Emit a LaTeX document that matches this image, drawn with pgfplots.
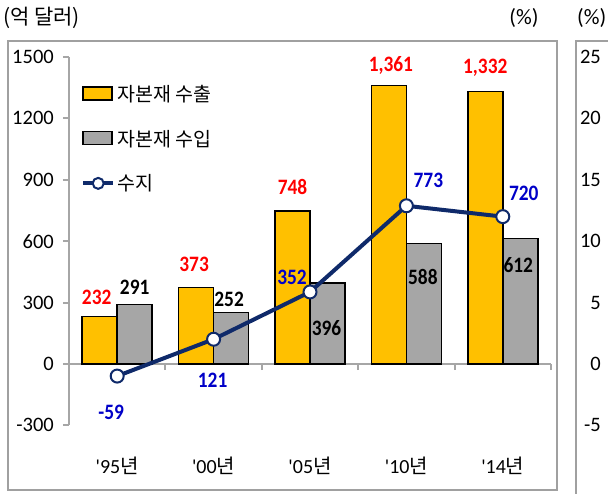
\documentclass[border=0pt]{standalone}
\usepackage{pgfplots}
\pgfplotsset{compat=1.18}
\usepackage{pgfplotstable}
\usepackage{fontspec}
\setmainfont{Carlito}[BoldFeatures={FakeStretch=0.88}]
\newfontfamily\kr{Noto Sans CJK KR}
\definecolor{cyellow}{HTML}{FFC000}
\definecolor{cgray}{HTML}{A6A6A6}
\definecolor{cnavy}{HTML}{0F2A6A}
\definecolor{cblue}{HTML}{0000C8}
\definecolor{cred}{HTML}{FF0000}
\definecolor{cframe}{HTML}{A0A0A0}

\pgfplotstableread{
x y dx dy lab
0 232 -20.5 19 232
1 373 -19.5 23 373
2 748 -17.5 24 748
3 1361 -15.5 20 1,361
4 1332 -17.5 24 1,332
}\exporttab
\pgfplotstableread{
x y dx dy lab
0 291 17.5 17 291
1 252 15.5 13 252
2 396 16.5 -45 396
3 588 16.5 -33 588
4 612 15.5 -26 612
}\importtab
\pgfplotstableread{
x y dx dy lab
0 -59 -6 -36 -59
1 121 -1 -41 121
2 352 -18 15 352
3 773 22 25 773
4 720 21 23 720
}\balancetab

\begin{document}
\begin{tikzpicture}[x=1pt,y=1pt]
\useasboundingbox (0,0) rectangle (608,493);
% frames
\draw[cframe, line width=2pt] (8,3) rectangle (557,452);
\draw[cframe, line width=2pt] (576,-10) -- (576,452) -- (700,452);
% titles
\node[anchor=west, inner sep=0pt, font=\kr\fontsize{21}{24}\selectfont] at (3,475) {(억 달러)};
\node[anchor=center, inner sep=0pt, font=\fontsize{22}{24}\selectfont] at (524,475) {(\%)};
\node[anchor=west, inner sep=0pt, font=\fontsize{22}{24}\selectfont] at (577,475) {(\%)};

\begin{axis}[
  at={(69pt,67.6pt)}, anchor=south west,
  scale only axis, width=482pt, height=368.4pt,
  xmin=-0.5, xmax=4.5, ymin=-300, ymax=1500,
  axis x line=middle, axis y line=left,
  axis line style={-, draw=cgray, line width=2pt},
  every inner x axis line/.append style={-},
  every outer y axis line/.append style={-},
  xtick={-0.5,0.5,1.5,2.5,3.5,4.5}, xticklabels={},
  ytick={-300,0,300,600,900,1200,1500},
  yticklabels={-300,0,300,600,900,1200,1500},
  tick align=outside, major tick length=6pt,
  tick style={draw=cgray, line width=2pt},
  yticklabel style={font=\fontsize{20.5}{23}\selectfont, anchor=east, inner sep=0pt, xshift=-9pt},
  clip=false,
  legend style={at={(rel axis cs:0,1)}, anchor=north west, xshift=12pt, yshift=-26pt,
    draw=none, fill=none, inner sep=0pt, row sep=23pt,
    font=\kr\fontsize{19.5}{21}\selectfont},
  legend cell align=left,
  nodes near coords,
  point meta=explicit symbolic,
  visualization depends on={\thisrow{dx} \as \dx},
  visualization depends on={\thisrow{dy} \as \dy},
  every node near coord/.style={anchor=center, inner sep=0pt, xshift=\dx pt, yshift=\dy pt,
    font=\bfseries\fontsize{22}{24}\selectfont},
]
\addplot[ybar, bar width=35pt, bar shift=-17.5pt, fill=cyellow, draw=black, line width=1.5pt,
  every node near coord/.append style={text=cred},
  legend image code/.code={\draw[fill=cyellow, draw=black, line width=1.5pt] (0pt,-6pt) rectangle (29pt,7pt);}]
  table[x=x, y=y, meta=lab] {\exporttab};
\addlegendentry{자본재 수출}
\addplot[ybar, bar width=35pt, bar shift=17.5pt, fill=cgray, draw=black, line width=1.5pt,
  every node near coord/.append style={text=black},
  legend image code/.code={\draw[fill=cgray, draw=black, line width=1.5pt] (0pt,-6pt) rectangle (29pt,7pt);}]
  table[x=x, y=y, meta=lab] {\importtab};
\addlegendentry{자본재 수입}
\addplot[cnavy, line width=4pt, mark=*, mark size=6.5pt,
  mark options={fill=white, draw=cnavy, line width=2pt},
  every node near coord/.append style={text=cblue},
  legend image code/.code={\draw[cnavy, line width=4pt] (0pt,0pt) -- (30pt,0pt);
     \draw[fill=white, draw=cnavy, line width=2pt] (15pt,0pt) circle (5.5pt);}]
  table[x=x, y=y, meta=lab] {\balancetab};
\addlegendentry{수지}
\foreach \k/\t in {0/95,1/00,2/05,3/10,4/14}{
  \edef\tmp{\noexpand\node[anchor=center, inner sep=0pt, font=\noexpand\fontsize{20}{22}\noexpand\selectfont] at (axis cs:\k,-300) [yshift=-40pt] {\noexpand\textquotesingle\t{\noexpand\kr 년}};}
  \tmp
}
\end{axis}

\begin{axis}[
  at={(601pt,67.6pt)}, anchor=south west,
  scale only axis, width=60pt, height=368.4pt,
  xmin=0, xmax=1, ymin=-5, ymax=25,
  hide x axis, axis y line=left,
  y axis line style={draw=none, -},
  ytick={-5,0,5,10,15,20,25},
  yticklabels={-5,0,5,10,15,20,25},
  major tick length=0pt, tick style={draw=none},
  yticklabel style={font=\fontsize{20.5}{23}\selectfont, anchor=east, inner sep=0pt},
]
\end{axis}
\end{tikzpicture}
\end{document}
